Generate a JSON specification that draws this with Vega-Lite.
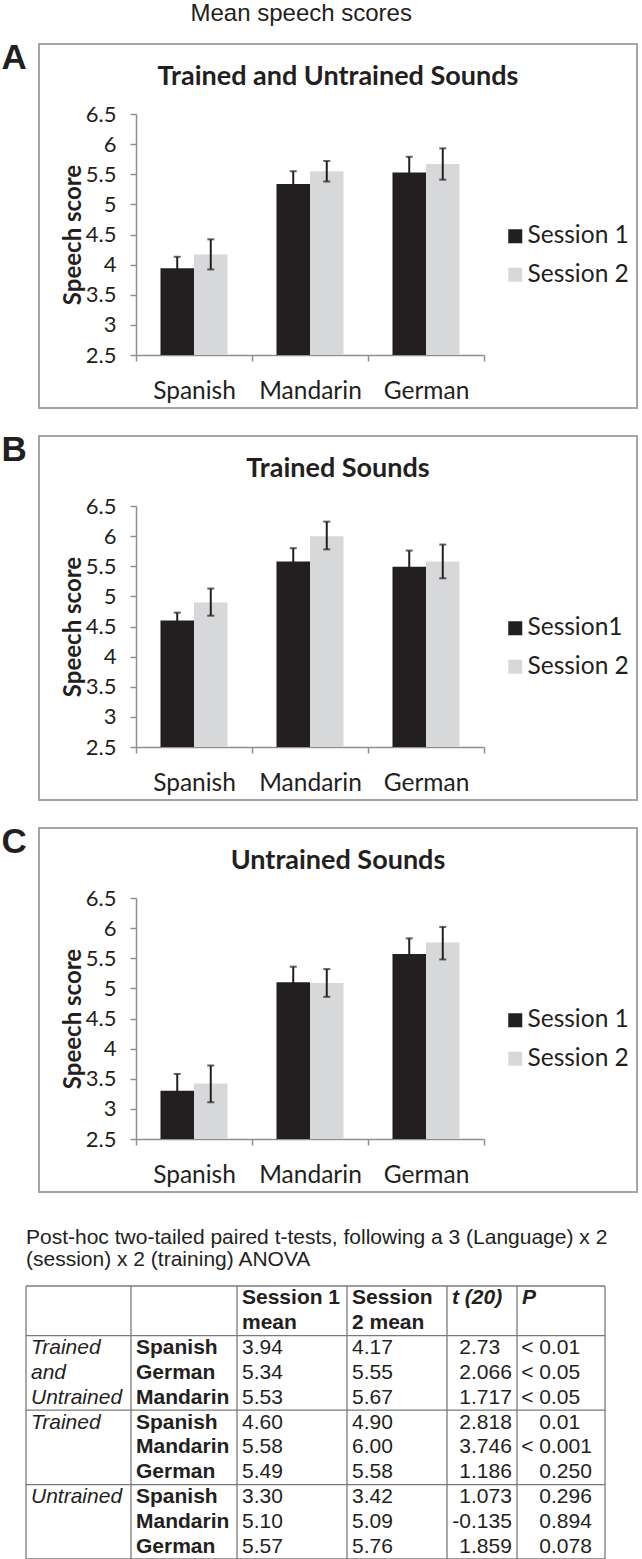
{
  "$schema": "https://vega.github.io/schema/vega-lite/v6.json",
  "padding": {"top": 2, "left": 0, "right": 0, "bottom": 0},
  "background": "white",
  "title": {"text": "Mean speech scores", "font": "Liberation Sans", "fontSize": 24, "fontWeight": "normal", "color": "#231f20", "anchor": "middle", "dx": -18, "offset": 14},
  "config": {
    "view": {"stroke": "#a5a5a5", "strokeWidth": 2},
    "axis": {"grid": false}
  },
  "datasets": {
    "bars": [
      {"panel": "A", "lang": "Spanish", "session": "Session 1", "mean": 3.94, "lo": 3.75, "hi": 4.13},
      {"panel": "A", "lang": "Spanish", "session": "Session 2", "mean": 4.17, "lo": 3.92, "hi": 4.42},
      {"panel": "A", "lang": "Mandarin", "session": "Session 1", "mean": 5.34, "lo": 5.13, "hi": 5.55},
      {"panel": "A", "lang": "Mandarin", "session": "Session 2", "mean": 5.55, "lo": 5.38, "hi": 5.72},
      {"panel": "A", "lang": "German", "session": "Session 1", "mean": 5.53, "lo": 5.27, "hi": 5.79},
      {"panel": "A", "lang": "German", "session": "Session 2", "mean": 5.67, "lo": 5.41, "hi": 5.93},
      {"panel": "B", "lang": "Spanish", "session": "Session1", "mean": 4.60, "lo": 4.47, "hi": 4.73},
      {"panel": "B", "lang": "Spanish", "session": "Session 2", "mean": 4.90, "lo": 4.68, "hi": 5.13},
      {"panel": "B", "lang": "Mandarin", "session": "Session1", "mean": 5.58, "lo": 5.36, "hi": 5.80},
      {"panel": "B", "lang": "Mandarin", "session": "Session 2", "mean": 6.00, "lo": 5.78, "hi": 6.24},
      {"panel": "B", "lang": "German", "session": "Session1", "mean": 5.49, "lo": 5.22, "hi": 5.76},
      {"panel": "B", "lang": "German", "session": "Session 2", "mean": 5.58, "lo": 5.30, "hi": 5.86},
      {"panel": "C", "lang": "Spanish", "session": "Session 1", "mean": 3.30, "lo": 3.02, "hi": 3.58},
      {"panel": "C", "lang": "Spanish", "session": "Session 2", "mean": 3.42, "lo": 3.11, "hi": 3.72},
      {"panel": "C", "lang": "Mandarin", "session": "Session 1", "mean": 5.10, "lo": 4.84, "hi": 5.36},
      {"panel": "C", "lang": "Mandarin", "session": "Session 2", "mean": 5.09, "lo": 4.86, "hi": 5.32},
      {"panel": "C", "lang": "German", "session": "Session 1", "mean": 5.57, "lo": 5.30, "hi": 5.83},
      {"panel": "C", "lang": "German", "session": "Session 2", "mean": 5.76, "lo": 5.48, "hi": 6.02}
    ],
    "titles": [
      {"panel": "A", "label": "Trained and Untrained Sounds"},
      {"panel": "B", "label": "Trained Sounds"},
      {"panel": "C", "label": "Untrained Sounds"}
    ],
    "tbl_rows": [
      {"r": 2, "g": "Trained", "lang": "Spanish", "s1": "3.94", "s2": "4.17", "ti": "2", "tf": ".73", "pi": "< 0", "pf": ".01"},
      {"r": 3, "g": "and", "lang": "German", "s1": "5.34", "s2": "5.55", "ti": "2", "tf": ".066", "pi": "< 0", "pf": ".05"},
      {"r": 4, "g": "Untrained", "lang": "Mandarin", "s1": "5.53", "s2": "5.67", "ti": "1", "tf": ".717", "pi": "< 0", "pf": ".05"},
      {"r": 5, "g": "Trained", "lang": "Spanish", "s1": "4.60", "s2": "4.90", "ti": "2", "tf": ".818", "pi": "0", "pf": ".01"},
      {"r": 6, "g": "", "lang": "Mandarin", "s1": "5.58", "s2": "6.00", "ti": "3", "tf": ".746", "pi": "< 0", "pf": ".001"},
      {"r": 7, "g": "", "lang": "German", "s1": "5.49", "s2": "5.58", "ti": "1", "tf": ".186", "pi": "0", "pf": ".250"},
      {"r": 8, "g": "Untrained", "lang": "Spanish", "s1": "3.30", "s2": "3.42", "ti": "1", "tf": ".073", "pi": "0", "pf": ".296"},
      {"r": 9, "g": "", "lang": "Mandarin", "s1": "5.10", "s2": "5.09", "ti": "-0", "tf": ".135", "pi": "0", "pf": ".894"},
      {"r": 10, "g": "", "lang": "German", "s1": "5.57", "s2": "5.76", "ti": "1", "tf": ".859", "pi": "0", "pf": ".078"}
    ],
    "tbl_head": [
      {"r": 0, "c": 2, "text": "Session 1"},
      {"r": 1, "c": 2, "text": "mean"},
      {"r": 0, "c": 3, "text": "Session"},
      {"r": 1, "c": 3, "text": "2 mean"},
      {"r": 0, "c": 4, "text": "t (20)"},
      {"r": 0, "c": 5, "text": "P"}
    ],
    "tbl_hlines": [{"r": -0.5}, {"r": 1.5}, {"r": 4.5}, {"r": 7.5}, {"r": 10.5}],
    "tbl_vlines": [{"c": 0}, {"c": 1}, {"c": 2}, {"c": 3}, {"c": 4}, {"c": 5}, {"c": 6}]
  },
  "resolve": {"scale": {"color": "independent", "xOffset": "independent"}, "legend": {"color": "independent"}},
  "spacing": 34,
  "vconcat": [
    {
      "spacing": 23,
      "resolve": {"scale": {"color": "independent", "xOffset": "independent"}, "legend": {"color": "independent"}},
      "vconcat": [
        {
          "width": 598, "height": 364,
          "title": {"text": "A", "orient": "left", "anchor": "end", "angle": 0, "align": "right", "baseline": "top", "dy": -3, "font": "Liberation Sans", "fontSize": 35, "fontWeight": "bold", "color": "#231f20", "offset": -13},
          "layer": [
            {
              "data": {"name": "bars"}, "transform": [{"filter": "datum.panel === 'A'"}],
              "mark": {"type": "bar"},
              "encoding": {
                "x": {"field": "lang", "type": "nominal", "sort": ["Spanish", "Mandarin", "German"], "title": null, "scale": {"range": [97, 445], "paddingInner": 0, "paddingOuter": 0},
                  "axis": {"offset": -53, "tickBand": "extent", "tickSize": 6, "tickWidth": 1.5, "tickColor": "#8f8f8f", "domainColor": "#8f8f8f", "domainWidth": 1.5, "labelAngle": 0, "labelFont": "Lato", "labelFontSize": 24.5, "labelColor": "#231f20", "labelPadding": 18}},
                "xOffset": {"field": "session", "type": "nominal", "sort": ["Session 1", "Session 2"], "scale": {"domain": ["Session 1", "Session 2"], "paddingInner": 0, "paddingOuter": 0.73}},
                "y": {"field": "mean", "type": "quantitative", "title": "Speech score", "scale": {"domain": [2.5, 6.5], "range": [311, 70], "nice": false, "zero": false},
                  "axis": {"offset": -97, "values": [2.5, 3, 3.5, 4, 4.5, 5, 5.5, 6, 6.5], "format": "~g", "tickSize": 6, "tickWidth": 1.5, "tickColor": "#8f8f8f", "domainColor": "#8f8f8f", "domainWidth": 1.5, "labelFont": "Lato", "labelFontSize": 22, "labelColor": "#231f20", "labelPadding": 14, "titleFont": "Lato", "titleFontSize": 24, "titleFontWeight": "bold", "titleColor": "#231f20", "titlePadding": 0}},
                "y2": {"datum": 2.5},
                "color": {"field": "session", "type": "nominal", "scale": {"domain": ["Session 1", "Session 2"], "range": ["#231f20", "#d7d8d9"]},
                  "legend": {"title": null, "orient": "none", "legendX": 464, "legendY": 180, "symbolType": "square", "symbolSize": 196, "symbolStrokeWidth": 0, "symbolOpacity": 1, "labelFont": "Lato", "labelFontSize": 24.5, "labelColor": "#231f20", "labelOffset": 0, "rowPadding": 13.5, "padding": 0}}
              }
            },
            {
              "data": {"name": "bars"}, "transform": [{"filter": "datum.panel === 'A'"}],
              "mark": {"type": "rule", "color": "#231f20", "strokeWidth": 2},
              "encoding": {
                "x": {"field": "lang", "type": "nominal", "sort": ["Spanish", "Mandarin", "German"], "title": null, "scale": {"range": [97, 445], "paddingInner": 0, "paddingOuter": 0}},
                "xOffset": {"field": "session", "type": "nominal", "sort": ["Session 1", "Session 2"], "scale": {"domain": ["Session 1", "Session 2"], "paddingInner": 0, "paddingOuter": 0.73}},
                "y": {"field": "lo", "type": "quantitative", "title": "Speech score", "scale": {"domain": [2.5, 6.5], "range": [311, 70], "nice": false, "zero": false}},
                "y2": {"field": "hi"}
              }
            },
            {
              "data": {"name": "bars"}, "transform": [{"filter": "datum.panel === 'A'"}],
              "mark": {"type": "tick", "color": "#231f20", "thickness": 2, "size": 7},
              "encoding": {
                "x": {"field": "lang", "type": "nominal", "sort": ["Spanish", "Mandarin", "German"], "title": null, "scale": {"range": [97, 445], "paddingInner": 0, "paddingOuter": 0}},
                "xOffset": {"field": "session", "type": "nominal", "sort": ["Session 1", "Session 2"], "scale": {"domain": ["Session 1", "Session 2"], "paddingInner": 0, "paddingOuter": 0.73}},
                "y": {"field": "hi", "type": "quantitative", "title": "Speech score", "scale": {"domain": [2.5, 6.5], "range": [311, 70], "nice": false, "zero": false}}
              }
            },
            {
              "data": {"name": "bars"}, "transform": [{"filter": "datum.panel === 'A'"}],
              "mark": {"type": "tick", "color": "#231f20", "thickness": 2, "size": 7},
              "encoding": {
                "x": {"field": "lang", "type": "nominal", "sort": ["Spanish", "Mandarin", "German"], "title": null, "scale": {"range": [97, 445], "paddingInner": 0, "paddingOuter": 0}},
                "xOffset": {"field": "session", "type": "nominal", "sort": ["Session 1", "Session 2"], "scale": {"domain": ["Session 1", "Session 2"], "paddingInner": 0, "paddingOuter": 0.73}},
                "y": {"field": "lo", "type": "quantitative", "title": "Speech score", "scale": {"domain": [2.5, 6.5], "range": [311, 70], "nice": false, "zero": false}}
              }
            },
            {
              "data": {"name": "titles"}, "transform": [{"filter": "datum.panel === 'A'"}],
              "mark": {"type": "text", "font": "Lato", "fontSize": 27, "fontWeight": "bold", "color": "#231f20", "baseline": "middle"},
              "encoding": {
                "y": {"datum": 7.11, "type": "quantitative", "title": "Speech score", "scale": {"domain": [2.5, 6.5], "range": [311, 70], "nice": false, "zero": false}},
                "text": {"field": "label"}
              }
            }
          ]
        },
        {
          "width": 598, "height": 364,
          "title": {"text": "B", "orient": "left", "anchor": "end", "angle": 0, "align": "right", "baseline": "top", "dy": -3, "font": "Liberation Sans", "fontSize": 35, "fontWeight": "bold", "color": "#231f20", "offset": -13},
          "layer": [
            {
              "data": {"name": "bars"}, "transform": [{"filter": "datum.panel === 'B'"}],
              "mark": {"type": "bar"},
              "encoding": {
                "x": {"field": "lang", "type": "nominal", "sort": ["Spanish", "Mandarin", "German"], "title": null, "scale": {"range": [97, 445], "paddingInner": 0, "paddingOuter": 0},
                  "axis": {"offset": -53, "tickBand": "extent", "tickSize": 6, "tickWidth": 1.5, "tickColor": "#8f8f8f", "domainColor": "#8f8f8f", "domainWidth": 1.5, "labelAngle": 0, "labelFont": "Lato", "labelFontSize": 24.5, "labelColor": "#231f20", "labelPadding": 18}},
                "xOffset": {"field": "session", "type": "nominal", "sort": ["Session1", "Session 2"], "scale": {"domain": ["Session1", "Session 2"], "paddingInner": 0, "paddingOuter": 0.73}},
                "y": {"field": "mean", "type": "quantitative", "title": "Speech score", "scale": {"domain": [2.5, 6.5], "range": [311, 70], "nice": false, "zero": false},
                  "axis": {"offset": -97, "values": [2.5, 3, 3.5, 4, 4.5, 5, 5.5, 6, 6.5], "format": "~g", "tickSize": 6, "tickWidth": 1.5, "tickColor": "#8f8f8f", "domainColor": "#8f8f8f", "domainWidth": 1.5, "labelFont": "Lato", "labelFontSize": 22, "labelColor": "#231f20", "labelPadding": 14, "titleFont": "Lato", "titleFontSize": 24, "titleFontWeight": "bold", "titleColor": "#231f20", "titlePadding": 0}},
                "y2": {"datum": 2.5},
                "color": {"field": "session", "type": "nominal", "scale": {"domain": ["Session1", "Session 2"], "range": ["#231f20", "#d7d8d9"]},
                  "legend": {"title": null, "orient": "none", "legendX": 464, "legendY": 180, "symbolType": "square", "symbolSize": 196, "symbolStrokeWidth": 0, "symbolOpacity": 1, "labelFont": "Lato", "labelFontSize": 24.5, "labelColor": "#231f20", "labelOffset": 0, "rowPadding": 13.5, "padding": 0}}
              }
            },
            {
              "data": {"name": "bars"}, "transform": [{"filter": "datum.panel === 'B'"}],
              "mark": {"type": "rule", "color": "#231f20", "strokeWidth": 2},
              "encoding": {
                "x": {"field": "lang", "type": "nominal", "sort": ["Spanish", "Mandarin", "German"], "title": null, "scale": {"range": [97, 445], "paddingInner": 0, "paddingOuter": 0}},
                "xOffset": {"field": "session", "type": "nominal", "sort": ["Session1", "Session 2"], "scale": {"domain": ["Session1", "Session 2"], "paddingInner": 0, "paddingOuter": 0.73}},
                "y": {"field": "lo", "type": "quantitative", "title": "Speech score", "scale": {"domain": [2.5, 6.5], "range": [311, 70], "nice": false, "zero": false}},
                "y2": {"field": "hi"}
              }
            },
            {
              "data": {"name": "bars"}, "transform": [{"filter": "datum.panel === 'B'"}],
              "mark": {"type": "tick", "color": "#231f20", "thickness": 2, "size": 7},
              "encoding": {
                "x": {"field": "lang", "type": "nominal", "sort": ["Spanish", "Mandarin", "German"], "title": null, "scale": {"range": [97, 445], "paddingInner": 0, "paddingOuter": 0}},
                "xOffset": {"field": "session", "type": "nominal", "sort": ["Session1", "Session 2"], "scale": {"domain": ["Session1", "Session 2"], "paddingInner": 0, "paddingOuter": 0.73}},
                "y": {"field": "hi", "type": "quantitative", "title": "Speech score", "scale": {"domain": [2.5, 6.5], "range": [311, 70], "nice": false, "zero": false}}
              }
            },
            {
              "data": {"name": "bars"}, "transform": [{"filter": "datum.panel === 'B'"}],
              "mark": {"type": "tick", "color": "#231f20", "thickness": 2, "size": 7},
              "encoding": {
                "x": {"field": "lang", "type": "nominal", "sort": ["Spanish", "Mandarin", "German"], "title": null, "scale": {"range": [97, 445], "paddingInner": 0, "paddingOuter": 0}},
                "xOffset": {"field": "session", "type": "nominal", "sort": ["Session1", "Session 2"], "scale": {"domain": ["Session1", "Session 2"], "paddingInner": 0, "paddingOuter": 0.73}},
                "y": {"field": "lo", "type": "quantitative", "title": "Speech score", "scale": {"domain": [2.5, 6.5], "range": [311, 70], "nice": false, "zero": false}}
              }
            },
            {
              "data": {"name": "titles"}, "transform": [{"filter": "datum.panel === 'B'"}],
              "mark": {"type": "text", "font": "Lato", "fontSize": 27, "fontWeight": "bold", "color": "#231f20", "baseline": "middle"},
              "encoding": {
                "y": {"datum": 7.11, "type": "quantitative", "title": "Speech score", "scale": {"domain": [2.5, 6.5], "range": [311, 70], "nice": false, "zero": false}},
                "text": {"field": "label"}
              }
            }
          ]
        },
        {
          "width": 598, "height": 364,
          "title": {"text": "C", "orient": "left", "anchor": "end", "angle": 0, "align": "right", "baseline": "top", "dy": -3, "font": "Liberation Sans", "fontSize": 35, "fontWeight": "bold", "color": "#231f20", "offset": -13},
          "layer": [
            {
              "data": {"name": "bars"}, "transform": [{"filter": "datum.panel === 'C'"}],
              "mark": {"type": "bar"},
              "encoding": {
                "x": {"field": "lang", "type": "nominal", "sort": ["Spanish", "Mandarin", "German"], "title": null, "scale": {"range": [97, 445], "paddingInner": 0, "paddingOuter": 0},
                  "axis": {"offset": -53, "tickBand": "extent", "tickSize": 6, "tickWidth": 1.5, "tickColor": "#8f8f8f", "domainColor": "#8f8f8f", "domainWidth": 1.5, "labelAngle": 0, "labelFont": "Lato", "labelFontSize": 24.5, "labelColor": "#231f20", "labelPadding": 18}},
                "xOffset": {"field": "session", "type": "nominal", "sort": ["Session 1", "Session 2"], "scale": {"domain": ["Session 1", "Session 2"], "paddingInner": 0, "paddingOuter": 0.73}},
                "y": {"field": "mean", "type": "quantitative", "title": "Speech score", "scale": {"domain": [2.5, 6.5], "range": [311, 70], "nice": false, "zero": false},
                  "axis": {"offset": -97, "values": [2.5, 3, 3.5, 4, 4.5, 5, 5.5, 6, 6.5], "format": "~g", "tickSize": 6, "tickWidth": 1.5, "tickColor": "#8f8f8f", "domainColor": "#8f8f8f", "domainWidth": 1.5, "labelFont": "Lato", "labelFontSize": 22, "labelColor": "#231f20", "labelPadding": 14, "titleFont": "Lato", "titleFontSize": 24, "titleFontWeight": "bold", "titleColor": "#231f20", "titlePadding": 0}},
                "y2": {"datum": 2.5},
                "color": {"field": "session", "type": "nominal", "scale": {"domain": ["Session 1", "Session 2"], "range": ["#231f20", "#d7d8d9"]},
                  "legend": {"title": null, "orient": "none", "legendX": 464, "legendY": 180, "symbolType": "square", "symbolSize": 196, "symbolStrokeWidth": 0, "symbolOpacity": 1, "labelFont": "Lato", "labelFontSize": 24.5, "labelColor": "#231f20", "labelOffset": 0, "rowPadding": 13.5, "padding": 0}}
              }
            },
            {
              "data": {"name": "bars"}, "transform": [{"filter": "datum.panel === 'C'"}],
              "mark": {"type": "rule", "color": "#231f20", "strokeWidth": 2},
              "encoding": {
                "x": {"field": "lang", "type": "nominal", "sort": ["Spanish", "Mandarin", "German"], "title": null, "scale": {"range": [97, 445], "paddingInner": 0, "paddingOuter": 0}},
                "xOffset": {"field": "session", "type": "nominal", "sort": ["Session 1", "Session 2"], "scale": {"domain": ["Session 1", "Session 2"], "paddingInner": 0, "paddingOuter": 0.73}},
                "y": {"field": "lo", "type": "quantitative", "title": "Speech score", "scale": {"domain": [2.5, 6.5], "range": [311, 70], "nice": false, "zero": false}},
                "y2": {"field": "hi"}
              }
            },
            {
              "data": {"name": "bars"}, "transform": [{"filter": "datum.panel === 'C'"}],
              "mark": {"type": "tick", "color": "#231f20", "thickness": 2, "size": 7},
              "encoding": {
                "x": {"field": "lang", "type": "nominal", "sort": ["Spanish", "Mandarin", "German"], "title": null, "scale": {"range": [97, 445], "paddingInner": 0, "paddingOuter": 0}},
                "xOffset": {"field": "session", "type": "nominal", "sort": ["Session 1", "Session 2"], "scale": {"domain": ["Session 1", "Session 2"], "paddingInner": 0, "paddingOuter": 0.73}},
                "y": {"field": "hi", "type": "quantitative", "title": "Speech score", "scale": {"domain": [2.5, 6.5], "range": [311, 70], "nice": false, "zero": false}}
              }
            },
            {
              "data": {"name": "bars"}, "transform": [{"filter": "datum.panel === 'C'"}],
              "mark": {"type": "tick", "color": "#231f20", "thickness": 2, "size": 7},
              "encoding": {
                "x": {"field": "lang", "type": "nominal", "sort": ["Spanish", "Mandarin", "German"], "title": null, "scale": {"range": [97, 445], "paddingInner": 0, "paddingOuter": 0}},
                "xOffset": {"field": "session", "type": "nominal", "sort": ["Session 1", "Session 2"], "scale": {"domain": ["Session 1", "Session 2"], "paddingInner": 0, "paddingOuter": 0.73}},
                "y": {"field": "lo", "type": "quantitative", "title": "Speech score", "scale": {"domain": [2.5, 6.5], "range": [311, 70], "nice": false, "zero": false}}
              }
            },
            {
              "data": {"name": "titles"}, "transform": [{"filter": "datum.panel === 'C'"}],
              "mark": {"type": "text", "font": "Lato", "fontSize": 27, "fontWeight": "bold", "color": "#231f20", "baseline": "middle"},
              "encoding": {
                "y": {"datum": 7.11, "type": "quantitative", "title": "Speech score", "scale": {"domain": [2.5, 6.5], "range": [311, 70], "nice": false, "zero": false}},
                "text": {"field": "label"}
              }
            }
          ]
        }
      ]
    },
    {
      "width": 598, "height": 273,
      "view": {"stroke": null},
      "title": {"text": ["Post-hoc two-tailed paired t-tests, following a 3 (Language) x 2", "(session) x 2 (training) ANOVA"], "anchor": "start", "frame": "group", "dx": -13, "font": "Liberation Sans", "fontSize": 21, "fontWeight": "normal", "color": "#231f20", "lineHeight": 22, "offset": 15},
      "layer": [
        {
          "data": {"name": "tbl_hlines"},
          "mark": {"type": "rule", "color": "#7a7a7a", "strokeWidth": 1.3},
          "encoding": {
            "y": {"field": "r", "type": "quantitative", "scale": {"domain": [-0.5, 10.5], "reverse": true, "nice": false, "zero": false}, "axis": null},
            "x": {"datum": 0, "type": "quantitative", "scale": {"domain": [0, 1, 2, 3, 4, 5, 6], "range": [-13, 92, 198, 308, 408, 478, 566], "nice": false, "zero": false}, "axis": null},
            "x2": {"datum": 6}
          }
        },
        {
          "data": {"name": "tbl_vlines"},
          "mark": {"type": "rule", "color": "#7a7a7a", "strokeWidth": 1.3},
          "encoding": {
            "x": {"field": "c", "type": "quantitative", "scale": {"domain": [0, 1, 2, 3, 4, 5, 6], "range": [-13, 92, 198, 308, 408, 478, 566], "nice": false, "zero": false}, "axis": null},
            "y": {"datum": -0.5, "type": "quantitative", "scale": {"domain": [-0.5, 10.5], "reverse": true, "nice": false, "zero": false}, "axis": null},
            "y2": {"datum": 10.5}
          }
        },
        {
          "data": {"name": "tbl_head"}, "transform": [{"filter": "datum.c < 4"}],
          "mark": {"type": "text", "font": "Liberation Sans", "fontSize": 21, "fontWeight": "bold", "align": "left", "baseline": "middle", "dx": 5, "color": "#231f20"},
          "encoding": {
            "x": {"field": "c", "type": "quantitative", "scale": {"domain": [0, 1, 2, 3, 4, 5, 6], "range": [-13, 92, 198, 308, 408, 478, 566], "nice": false, "zero": false}, "axis": null},
            "y": {"field": "r", "type": "quantitative", "scale": {"domain": [-0.5, 10.5], "reverse": true, "nice": false, "zero": false}, "axis": null},
            "text": {"field": "text"}
          }
        },
        {
          "data": {"name": "tbl_head"}, "transform": [{"filter": "datum.c >= 4"}],
          "mark": {"type": "text", "font": "Liberation Sans", "fontSize": 21, "fontWeight": "bold", "fontStyle": "italic", "align": "left", "baseline": "middle", "dx": 5, "color": "#231f20"},
          "encoding": {
            "x": {"field": "c", "type": "quantitative", "scale": {"domain": [0, 1, 2, 3, 4, 5, 6], "range": [-13, 92, 198, 308, 408, 478, 566], "nice": false, "zero": false}, "axis": null},
            "y": {"field": "r", "type": "quantitative", "scale": {"domain": [-0.5, 10.5], "reverse": true, "nice": false, "zero": false}, "axis": null},
            "text": {"field": "text"}
          }
        },
        {
          "data": {"name": "tbl_rows"},
          "mark": {"type": "text", "font": "Liberation Sans", "fontSize": 21, "fontStyle": "italic", "align": "left", "baseline": "middle", "dx": 5, "color": "#231f20"},
          "encoding": {
            "x": {"datum": 0, "type": "quantitative", "scale": {"domain": [0, 1, 2, 3, 4, 5, 6], "range": [-13, 92, 198, 308, 408, 478, 566], "nice": false, "zero": false}, "axis": null},
            "y": {"field": "r", "type": "quantitative", "scale": {"domain": [-0.5, 10.5], "reverse": true, "nice": false, "zero": false}, "axis": null},
            "text": {"field": "g"}
          }
        },
        {
          "data": {"name": "tbl_rows"},
          "mark": {"type": "text", "font": "Liberation Sans", "fontSize": 21, "fontWeight": "bold", "align": "left", "baseline": "middle", "dx": 5, "color": "#231f20"},
          "encoding": {
            "x": {"datum": 1, "type": "quantitative", "scale": {"domain": [0, 1, 2, 3, 4, 5, 6], "range": [-13, 92, 198, 308, 408, 478, 566], "nice": false, "zero": false}, "axis": null},
            "y": {"field": "r", "type": "quantitative", "scale": {"domain": [-0.5, 10.5], "reverse": true, "nice": false, "zero": false}, "axis": null},
            "text": {"field": "lang"}
          }
        },
        {
          "data": {"name": "tbl_rows"},
          "mark": {"type": "text", "font": "Liberation Sans", "fontSize": 21, "align": "left", "baseline": "middle", "dx": 5, "color": "#231f20"},
          "encoding": {
            "x": {"datum": 2, "type": "quantitative", "scale": {"domain": [0, 1, 2, 3, 4, 5, 6], "range": [-13, 92, 198, 308, 408, 478, 566], "nice": false, "zero": false}, "axis": null},
            "y": {"field": "r", "type": "quantitative", "scale": {"domain": [-0.5, 10.5], "reverse": true, "nice": false, "zero": false}, "axis": null},
            "text": {"field": "s1"}
          }
        },
        {
          "data": {"name": "tbl_rows"},
          "mark": {"type": "text", "font": "Liberation Sans", "fontSize": 21, "align": "left", "baseline": "middle", "dx": 5, "color": "#231f20"},
          "encoding": {
            "x": {"datum": 3, "type": "quantitative", "scale": {"domain": [0, 1, 2, 3, 4, 5, 6], "range": [-13, 92, 198, 308, 408, 478, 566], "nice": false, "zero": false}, "axis": null},
            "y": {"field": "r", "type": "quantitative", "scale": {"domain": [-0.5, 10.5], "reverse": true, "nice": false, "zero": false}, "axis": null},
            "text": {"field": "s2"}
          }
        },
        {
          "data": {"name": "tbl_rows"},
          "mark": {"type": "text", "font": "Liberation Sans", "fontSize": 21, "align": "right", "baseline": "middle", "dx": 24, "color": "#231f20"},
          "encoding": {
            "x": {"datum": 4, "type": "quantitative", "scale": {"domain": [0, 1, 2, 3, 4, 5, 6], "range": [-13, 92, 198, 308, 408, 478, 566], "nice": false, "zero": false}, "axis": null},
            "y": {"field": "r", "type": "quantitative", "scale": {"domain": [-0.5, 10.5], "reverse": true, "nice": false, "zero": false}, "axis": null},
            "text": {"field": "ti"}
          }
        },
        {
          "data": {"name": "tbl_rows"},
          "mark": {"type": "text", "font": "Liberation Sans", "fontSize": 21, "align": "left", "baseline": "middle", "dx": 24, "color": "#231f20"},
          "encoding": {
            "x": {"datum": 4, "type": "quantitative", "scale": {"domain": [0, 1, 2, 3, 4, 5, 6], "range": [-13, 92, 198, 308, 408, 478, 566], "nice": false, "zero": false}, "axis": null},
            "y": {"field": "r", "type": "quantitative", "scale": {"domain": [-0.5, 10.5], "reverse": true, "nice": false, "zero": false}, "axis": null},
            "text": {"field": "tf"}
          }
        },
        {
          "data": {"name": "tbl_rows"},
          "mark": {"type": "text", "font": "Liberation Sans", "fontSize": 21, "align": "right", "baseline": "middle", "dx": 34, "color": "#231f20"},
          "encoding": {
            "x": {"datum": 5, "type": "quantitative", "scale": {"domain": [0, 1, 2, 3, 4, 5, 6], "range": [-13, 92, 198, 308, 408, 478, 566], "nice": false, "zero": false}, "axis": null},
            "y": {"field": "r", "type": "quantitative", "scale": {"domain": [-0.5, 10.5], "reverse": true, "nice": false, "zero": false}, "axis": null},
            "text": {"field": "pi"}
          }
        },
        {
          "data": {"name": "tbl_rows"},
          "mark": {"type": "text", "font": "Liberation Sans", "fontSize": 21, "align": "left", "baseline": "middle", "dx": 34, "color": "#231f20"},
          "encoding": {
            "x": {"datum": 5, "type": "quantitative", "scale": {"domain": [0, 1, 2, 3, 4, 5, 6], "range": [-13, 92, 198, 308, 408, 478, 566], "nice": false, "zero": false}, "axis": null},
            "y": {"field": "r", "type": "quantitative", "scale": {"domain": [-0.5, 10.5], "reverse": true, "nice": false, "zero": false}, "axis": null},
            "text": {"field": "pf"}
          }
        }
      ]
    }
  ]
}
